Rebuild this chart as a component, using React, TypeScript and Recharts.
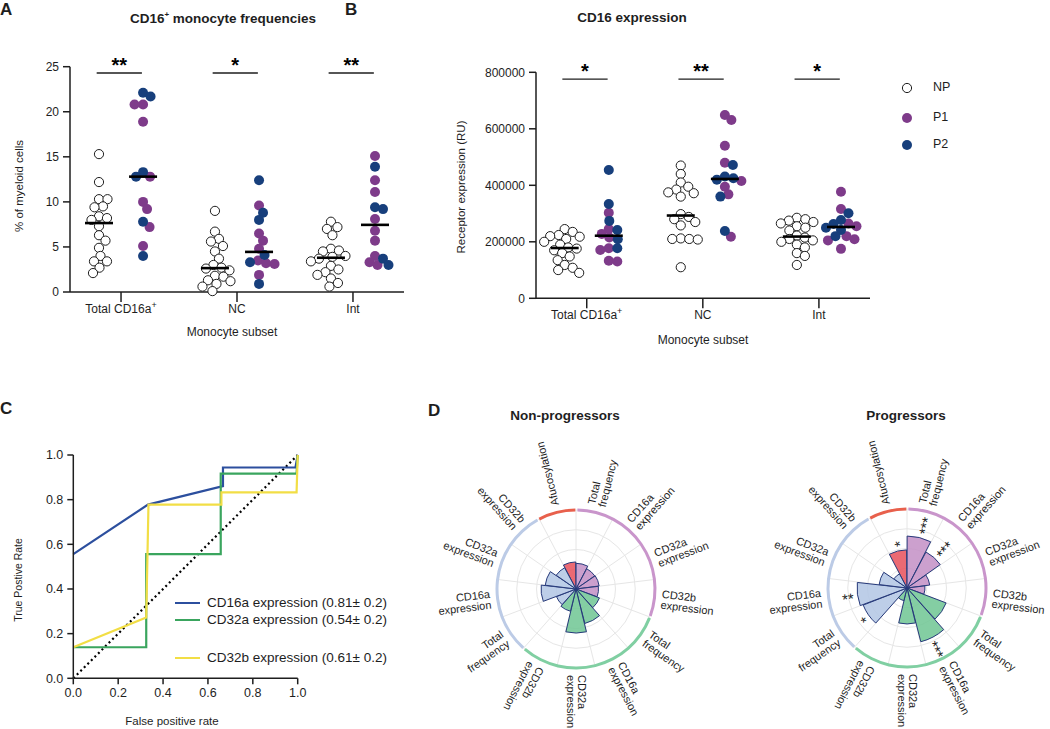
import React from 'react'
import {
  ScatterChart, Scatter, XAxis, YAxis, ReferenceLine,
  LineChart, Line,
  RadialBarChart, RadialBar, PolarAngleAxis, PolarRadiusAxis, PolarGrid, Cell, LabelList,
  PieChart, Pie,
} from 'recharts'

const FONT = '"Liberation Sans", Arial, Helvetica, sans-serif'
const INK = '#1e1e1e'
const P1_COLOR = '#7e3b8a'
const P2_COLOR = '#173f7c'

// ---- panels A / B : monocyte subsets ----
const SUBSETS = ['Total CD16a+', 'NC', 'Int']
const GROUPS = ['NP', 'P1', 'P2']

// % of myeloid cells
const FREQ_NP = [
  [15.3, 12.2, 10.3, 10.3, 9.5, 9.4, 8.4, 8.2, 8.0, 7.3, 6.3, 5.7, 4.9, 4.0, 3.4, 3.4, 2.7, 2.1],
  [9.0, 6.7, 5.9, 5.6, 5.1, 4.5, 3.7, 3.0, 2.7, 2.6, 2.4, 1.8, 1.7, 1.3, 1.2, 0.9, 0.6, 0.1],
  [7.8, 7.2, 7.0, 6.3, 4.8, 4.6, 4.5, 4.0, 3.9, 3.7, 3.4, 2.9, 2.5, 2.2, 1.9, 1.5, 1.0, 0.6],
]
const FREQ_P1 = [
  [20.8, 20.8, 18.9, 12.8, 10.0, 9.2, 7.2, 5.1],
  [9.6, 6.5, 5.7, 4.8, 3.5, 3.2, 3.1, 1.9],
  [15.1, 12.4, 11.1, 8.1, 6.8, 5.7, 4.0, 3.3, 3.0],
]
const FREQ_P2 = [
  [22.1, 21.7, 13.3, 12.8, 7.8, 4.0],
  [12.4, 8.8, 8.0, 4.1, 3.3, 0.9],
  [13.9, 9.4, 9.2, 3.7, 3.0],
]
const FREQ_TICKS = [0, 5, 10, 15, 20, 25]
const FREQ_SIG = ['**', '*', '**']

// receptor expression (RU)
const EXPR_NP = [
  [245000, 235000, 224000, 220000, 218000, 210000, 200000, 190000, 180000, 176000, 170000, 160000, 148000, 135000, 118000, 108000, 100000, 90000],
  [470000, 440000, 410000, 395000, 385000, 375000, 372000, 360000, 298000, 288000, 280000, 270000, 258000, 212000, 210000, 210000, 208000, 110000],
  [285000, 280000, 275000, 270000, 265000, 255000, 250000, 240000, 222000, 215000, 210000, 205000, 200000, 190000, 180000, 160000, 150000, 118000],
]
const EXPR_P1 = [
  [303000, 245000, 228000, 215000, 177000, 171000, 133000, 130000],
  [649000, 631000, 540000, 480000, 415000, 395000, 368000, 218000],
  [377000, 316000, 265000, 255000, 220000, 209000, 205000, 175000],
]
const EXPR_P2 = [
  [454000, 334000, 274000, 242000, 209000, 177000],
  [472000, 431000, 425000, 420000, 360000, 238000],
  [301000, 277000, 263000, 250000, 242000, 220000],
]
const EXPR_TICKS = [0, 200000, 400000, 600000, 800000]
const EXPR_SIG = ['*', '**', '*']

// ---- panel C : ROC ----
const ROC_TICKS = [0, 0.2, 0.4, 0.6, 0.8, 1.0]
const CD16A_FPR = [0, 0.333, 0.667, 0.667, 0.99, 1.0]
const CD16A_TPR = [0.556, 0.778, 0.861, 0.944, 0.944, 1.0]
const CD32A_FPR = [0, 0.325, 0.325, 0.657, 0.657, 0.995, 1.0]
const CD32A_TPR = [0.139, 0.139, 0.556, 0.556, 0.917, 0.917, 1.0]
const CD32B_FPR = [0, 0.325, 0.335, 0.66, 0.66, 0.995, 1.0]
const CD32B_TPR = [0.139, 0.272, 0.778, 0.778, 0.833, 0.833, 1.0]
const CHANCE = [0, 1]
const ROC_NAMES = ['CD16a expression (0.81± 0.2)', 'CD32a expression (0.54± 0.2)', 'CD32b expression (0.61± 0.2)']
const ROC_COLORS = ['#2c4f9e', '#3aa55e', '#f2de45']

// ---- panel D : rose charts ----
const ROSE_LABELS = [
  'Afucosylation',
  'Total frequency', 'CD16a expression', 'CD32a expression', 'CD32b expression',
  'Total frequency', 'CD16a expression', 'CD32a expression', 'CD32b expression',
  'Total frequency', 'CD16a expression', 'CD32a expression', 'CD32b expression',
]
const ROSE_GROUP = [0, 1, 1, 1, 1, 2, 2, 2, 2, 3, 3, 3, 3]
const NONPROG = [1.37, 1.30, 1.16, 1.18, 1.14, 1.27, 1.80, 2.23, 1.16, 1.06, 1.77, 1.57, 1.22]
const PROG = [1.93, 2.63, 2.06, 1.16, 0.91, 2.12, 2.81, 1.82, 0.66, 2.38, 2.53, 1.42, 0.81]
const PROG_SIG = ['*', '***', '***', '', '', '', '***', '', '', '*', '**', '', '']
const NONPROG_SIG = ROSE_LABELS.map(() => '')

const BAR_COLORS = ['#e8505b', '#c38fc6', '#6fc693', '#b2c5e4']
const RING_COLORS = ['#e8604c', '#c995cb', '#80cfa2', '#bccbe6']

type Pt = { x: number; y: number }
const AX = { stroke: INK, strokeWidth: 1.5 }
const DOT_D = 8.2
const SIDE = 0.19

function median(v: number[]) {
  const s = [...v].sort((a, b) => a - b)
  const m = Math.floor(s.length / 2)
  return s.length % 2 ? s[m] : (s[m - 1] + s[m]) / 2
}

// greedy beeswarm: offsets in px, largest value placed first
function swarmOffsets(values: number[], pxPerY: number) {
  const order = values.map((_, i) => i).sort((a, b) => values[b] - values[a])
  const placed: Pt[] = []
  const out = values.map(() => 0)
  order.forEach((i) => {
    const py = values[i] * pxPerY
    for (let k = 0; k < 400; k++) {
      const dx = k === 0 ? 0 : (k % 2 ? 1 : -1) * Math.ceil(k / 2) * 0.5
      if (placed.every((p) => (p.x - dx) ** 2 + (p.y - py) ** 2 >= DOT_D * DOT_D)) {
        placed.push({ x: dx, y: py })
        out[i] = dx
        return
      }
    }
  })
  return out
}

function buildSwarm(np: number[][], p1: number[][], p2: number[][], pxPerY: number, pxPerCat: number) {
  const npPts: Pt[] = []
  const p1Pts: Pt[] = []
  const p2Pts: Pt[] = []
  const meds: Pt[] = []
  SUBSETS.forEach((_, c) => {
    const a = swarmOffsets(np[c], pxPerY)
    np[c].forEach((v, i) => npPts.push({ x: c - SIDE + a[i] / pxPerCat, y: v }))
    const pv = [...p1[c], ...p2[c]]
    const b = swarmOffsets(pv, pxPerY)
    pv.forEach((v, i) => (i < p1[c].length ? p1Pts : p2Pts).push({ x: c + SIDE + b[i] / pxPerCat, y: v }))
    meds.push({ x: c - SIDE, y: median(np[c]) }, { x: c + SIDE, y: median(pv) })
  })
  return { npPts, p1Pts, p2Pts, meds }
}

const openDot = (p: any) => <circle cx={p.cx} cy={p.cy} r={4.6} fill="#fff" stroke={INK} strokeWidth={1} />
const fillDot = (color: string) => (p: any) => <circle cx={p.cx} cy={p.cy} r={5} fill={color} />
const medianBar = (p: any) => <line x1={p.cx - 14} x2={p.cx + 14} y1={p.cy} y2={p.cy} stroke="#000" strokeWidth={2.6} />

function SubsetTick({ x, y, payload }: any) {
  const name = SUBSETS[payload.value] ?? ''
  const sup = name.endsWith('+')
  return (
    <text x={x} y={y} dy={9} textAnchor="middle" fontSize={12} fill={INK} fontFamily={FONT}>
      {sup ? name.slice(0, -1) : name}
      {sup && <tspan dy={-5} fontSize={9}>+</tspan>}
    </text>
  )
}

function Txt({ x, y, children, size = 12, bold = false, rotate = 0, anchor = 'middle' }: any) {
  const tx = anchor === 'middle' ? '-50%' : anchor === 'end' ? '-100%' : '0'
  return (
    <div style={{
      position: 'absolute', left: x, top: y, transform: `translate(${tx},-50%) rotate(${rotate}deg)`,
      fontSize: size, fontWeight: bold ? 700 : 400, whiteSpace: 'nowrap', lineHeight: 1, color: INK, fontFamily: FONT,
    }}>
      {children}
    </div>
  )
}

function DotPanel({ np, p1, p2, yMax, yTicks, sig, sigY, left, width, height, margin, yWidth, xDomain }: any) {
  const plotW = width - margin.left - margin.right - yWidth
  const plotH = height - margin.top - margin.bottom - 30
  const pxPerCat = plotW / (xDomain[1] - xDomain[0])
  const { npPts, p1Pts, p2Pts, meds } = buildSwarm(np, p1, p2, plotH / yMax, pxPerCat)
  return (
    <div style={{ position: 'absolute', left, top: 0 }}>
      <ScatterChart width={width} height={height} margin={margin}>
        <XAxis type="number" dataKey="x" domain={xDomain} ticks={[0, 1, 2]} allowDataOverflow interval={0}
          height={30} tickSize={10} tickMargin={2} axisLine={AX} tickLine={AX} tick={<SubsetTick />} />
        <YAxis type="number" dataKey="y" domain={[0, yMax]} ticks={yTicks} interval={0} width={yWidth}
          tickSize={7} tickMargin={4} axisLine={AX} tickLine={AX}
          tick={{ fill: INK, fontSize: 12, fontFamily: FONT }} />
        {sig.map((s: string, c: number) => (
          <ReferenceLine key={`s${c}`} segment={[{ x: c - 0.21, y: sigY }, { x: c + 0.18, y: sigY }]}
            stroke={INK} strokeWidth={1.3} ifOverflow="visible"
            label={{ value: s, position: 'top', offset: 1, fill: '#000', fontSize: 20, fontWeight: 700, fontFamily: FONT }} />
        ))}
        <Scatter name={GROUPS[0]} data={npPts} shape={openDot} isAnimationActive={false} />
        <Scatter name={GROUPS[1]} data={p1Pts} shape={fillDot(P1_COLOR)} isAnimationActive={false} />
        <Scatter name={GROUPS[2]} data={p2Pts} shape={fillDot(P2_COLOR)} isAnimationActive={false} />
        <Scatter name="median" data={meds} shape={medianBar} isAnimationActive={false} />
      </ScatterChart>
    </div>
  )
}

function rocData(fpr: number[], tpr: number[]) {
  return fpr.map((x, i) => ({ x, y: tpr[i] }))
}

// text laid along the radius, flipped on the left so it stays readable
function radialText(cx: number, cy: number, r: number, a: number, lines: string[], size: number, lh: number, dyAdj: number) {
  const rad = (a * Math.PI) / 180
  const x = cx + r * Math.cos(rad)
  const y = cy - r * Math.sin(rad)
  const compass = (((90 - a) % 360) + 360) % 360
  const flip = compass > 220 && compass < 335
  const rot = -a + (flip ? 180 : 0)
  return (
    <g transform={`translate(${x},${y}) rotate(${rot})`}>
      <text textAnchor={flip ? 'end' : 'start'} fontSize={size} fontFamily={FONT} fill={INK}>
        {lines.map((ln, k) => (
          <tspan key={k} x={0} y={(k - (lines.length - 1) / 2) * lh + dyAdj}>{ln}</tspan>
        ))}
      </text>
    </g>
  )
}

const ROSE_SIZE = 340
const ROSE_C = 170
const ROSE_R = 79
const BAND = 360 / 13
const ROSE_START = 90

function RoseTick(props: any) {
  // tick sits at the start of the band; move it to the middle
  const a = (props.payload?.coordinate ?? 0) + BAND / 2
  const label = ROSE_LABELS[Number(props.payload?.value)] ?? ''
  return radialText(ROSE_C, ROSE_C, 86, a, label.split(' '), 11, 11, 3.8)
}

function renderSig(props: any) {
  const { viewBox, value } = props
  if (!value || !viewBox || viewBox.outerRadius == null) return null
  const { cx, cy, outerRadius, startAngle, endAngle } = viewBox
  return radialText(cx, cy, outerRadius + 4, (startAngle + endAngle) / 2, [String(value)], 15, 15, 9)
}

function Rose({ values, sig, left, top }: any) {
  const data = ROSE_LABELS.map((name, i) => ({ id: String(i), name, value: values[i], sig: sig[i], group: ROSE_GROUP[i] }))
  const ring = [0, 1, 2, 3].map((g) => ({ g, n: ROSE_GROUP.filter((x) => x === g).length }))
  return (
    <div style={{ position: 'absolute', left, top, width: ROSE_SIZE, height: ROSE_SIZE }}>
      <div style={{ position: 'absolute', left: 0, top: 0 }}>
        <RadialBarChart width={ROSE_SIZE} height={ROSE_SIZE} cx={ROSE_C} cy={ROSE_C} innerRadius={0} outerRadius={ROSE_R}
          startAngle={ROSE_START} endAngle={ROSE_START - 360} layout="centric" data={data} barCategoryGap="2%"
          margin={{ top: 0, right: 0, bottom: 0, left: 0 }}>
          <PolarGrid gridType="circle" stroke="#e6e6e6" />
          <PolarAngleAxis type="category" dataKey="id" tick={<RoseTick />} tickLine={false} axisLine={false} />
          <PolarRadiusAxis type="number" domain={[0, 4]} tickCount={5} tick={false} axisLine={false} />
          <RadialBar dataKey="value" isAnimationActive={false} stroke="#26397a" strokeWidth={1} fillOpacity={0.85}>
            {data.map((d, i) => <Cell key={i} fill={BAR_COLORS[d.group]} />)}
            <LabelList dataKey="sig" content={renderSig} />
          </RadialBar>
        </RadialBarChart>
      </div>
      <div style={{ position: 'absolute', left: 0, top: 0 }}>
        <PieChart width={ROSE_SIZE} height={ROSE_SIZE} margin={{ top: 0, right: 0, bottom: 0, left: 0 }}>
          <Pie data={ring} dataKey="n" cx={ROSE_C} cy={ROSE_C} innerRadius={77.5} outerRadius={80.5}
            startAngle={ROSE_START + BAND} endAngle={ROSE_START + BAND - 360} paddingAngle={1.5} stroke="none" isAnimationActive={false}>
            {ring.map((d, i) => <Cell key={i} fill={RING_COLORS[d.g]} />)}
          </Pie>
        </PieChart>
      </div>
    </div>
  )
}

export default function App() {
  const rocSeries = [
    rocData(CD16A_FPR, CD16A_TPR),
    rocData(CD32A_FPR, CD32A_TPR),
    rocData(CD32B_FPR, CD32B_TPR),
  ]
  const legendY = [603, 620, 658]
  return (
    <div style={{ position: 'absolute', left: 0, top: 0, width: 1050, height: 729, background: '#fff', fontFamily: FONT, overflow: 'hidden' }}>
      {/* A */}
      <Txt x={0} y={9} size={17} bold anchor="start">A</Txt>
      <Txt x={223} y={18} size={13.5} bold>CD16<sup style={{ fontSize: 8 }}>+</sup> monocyte frequencies</Txt>
      <DotPanel np={FREQ_NP} p1={FREQ_P1} p2={FREQ_P2} yMax={25} yTicks={FREQ_TICKS} sig={FREQ_SIG} sigY={24.3}
        left={0} width={420} height={345} margin={{ top: 66.7, right: 16, bottom: 23, left: 0 }} yWidth={70}
        xDomain={[-0.44, 2.44]} />
      <Txt x={20} y={186} size={11.5} rotate={-90}>% of myeloid cells</Txt>
      <Txt x={232} y={332} size={12}>Monocyte subset</Txt>

      {/* B */}
      <Txt x={345} y={9} size={17} bold anchor="start">B</Txt>
      <Txt x={632} y={18} size={13.5} bold>CD16 expression</Txt>
      <DotPanel np={EXPR_NP} p1={EXPR_P1} p2={EXPR_P2} yMax={800000} yTicks={EXPR_TICKS} sig={EXPR_SIG} sigY={776000}
        left={440} width={440} height={345} margin={{ top: 72.3, right: 10, bottom: 16.7, left: 0 }} yWidth={96}
        xDomain={[-0.437, 2.44]} />
      <Txt x={462} y={187} size={11.5} rotate={-90}>Receptor expression (RU)</Txt>
      <Txt x={703} y={340} size={12}>Monocyte subset</Txt>
      {GROUPS.map((g, i) => (
        <div key={g}>
          <svg style={{ position: 'absolute', left: 900, top: [88, 118, 145][i] - 7 }} width={14} height={14}>
            <circle cx={7} cy={7} r={i === 0 ? 4.6 : 5} fill={i === 0 ? '#fff' : i === 1 ? P1_COLOR : P2_COLOR}
              stroke={i === 0 ? INK : 'none'} strokeWidth={1} />
          </svg>
          <Txt x={933} y={[87, 117, 144][i]} size={12.5} anchor="start">{g}</Txt>
        </div>
      ))}

      {/* C */}
      <Txt x={0} y={408} size={17} bold anchor="start">C</Txt>
      <div style={{ position: 'absolute', left: 0, top: 400 }}>
        <LineChart width={320} height={329} margin={{ top: 55, right: 22.3, bottom: 20.7, left: 0 }}>
          <XAxis type="number" dataKey="x" domain={[0, 1]} ticks={ROC_TICKS} interval={0} height={30}
            tickFormatter={(v: number) => v.toFixed(1)} tickSize={6} tickMargin={4} axisLine={AX} tickLine={AX}
            tick={{ fill: INK, fontSize: 12.5, fontFamily: FONT }} />
          <YAxis type="number" dataKey="y" domain={[0, 1]} ticks={ROC_TICKS} interval={0} width={73.3}
            tickFormatter={(v: number) => v.toFixed(1)} tickSize={6} tickMargin={4} axisLine={AX} tickLine={AX}
            tick={{ fill: INK, fontSize: 12.5, fontFamily: FONT }} />
          <Line data={CHANCE.map((v) => ({ x: v, y: v }))} dataKey="y" type="linear" stroke="#000" strokeWidth={2.2}
            strokeDasharray="2 3" dot={false} isAnimationActive={false} />
          {rocSeries.map((d, i) => (
            <Line key={i} data={d} dataKey="y" name={ROC_NAMES[i]} type="linear" stroke={ROC_COLORS[i]}
              strokeWidth={2.2} dot={false} isAnimationActive={false} />
          ))}
        </LineChart>
      </div>
      {ROC_NAMES.map((n, i) => (
        <div key={n}>
          <div style={{ position: 'absolute', left: 175, top: legendY[i] - 1.2, width: 25, height: 2.4, background: ROC_COLORS[i] }} />
          <Txt x={207} y={legendY[i]} size={13.5} anchor="start">{n}</Txt>
        </div>
      ))}
      <Txt x={18} y={580} size={10.5} rotate={-90}>True Postive Rate</Txt>
      <Txt x={172} y={722} size={11.5}>False positive rate</Txt>

      {/* D */}
      <Txt x={428} y={410} size={17} bold anchor="start">D</Txt>
      <Txt x={565} y={416} size={13.5} bold>Non-progressors</Txt>
      <Txt x={906} y={416} size={13.5} bold>Progressors</Txt>
      <Rose values={NONPROG} sig={NONPROG_SIG} left={576 - ROSE_C} top={589 - ROSE_C} />
      <Rose values={PROG} sig={PROG_SIG} left={906.7 - ROSE_C} top={588 - ROSE_C} />
    </div>
  )
}
